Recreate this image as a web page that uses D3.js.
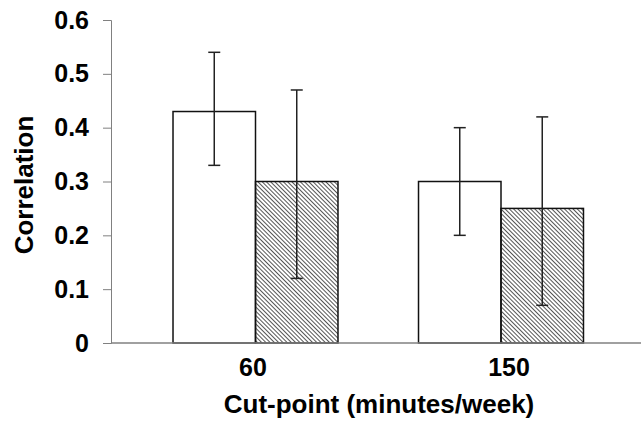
<!DOCTYPE html>
<html>
<head>
<meta charset="utf-8">
<script src="https://cdn.jsdelivr.net/npm/d3@7"></script>
<style>
  body { margin: 0; background: #fff; }
  text { font-family: "Liberation Sans", Arial, sans-serif; font-weight: bold; }
</style>
</head>
<body>
<div id="chart"></div>
<script>
// data
var categories = ["60", "150"];
var series = ["a", "b"];               // white bar, hatched bar
var values = [[0.43, 0.30], [0.30, 0.25]];
var errLow = [[0.33, 0.12], [0.20, 0.07]];
var errHigh = [[0.54, 0.47], [0.40, 0.42]];
var yTicks = [0, 0.1, 0.2, 0.3, 0.4, 0.5, 0.6];

var width = 641, height = 421;
var svg = d3.select("#chart").append("svg")
    .attr("width", width)
    .attr("height", height);

// hatch for the second series
var defs = svg.append("defs");
defs.append("pattern")
    .attr("id", "hatch")
    .attr("patternUnits", "userSpaceOnUse")
    .attr("width", 3)
    .attr("height", 3)
    .attr("patternTransform", "rotate(-45)")
  .append("line")
    .attr("x1", 0.5).attr("y1", 0)
    .attr("x2", 0.5).attr("y2", 3)
    .attr("stroke", "#555")
    .attr("stroke-width", 1);

var y = d3.scaleLinear().domain([0, 0.6]).range([343, 20]);

var x = d3.scaleBand()
    .domain(categories)
    .range([132.75, 623.75])
    .paddingInner(0.328)
    .paddingOuter(0.164);

var xs = d3.scaleBand()
    .domain(series)
    .range([0, x.bandwidth()]);

// category labels sit a little off the group centres in the original
var xl = d3.scalePoint()
    .domain(categories)
    .range([253, 509]);

// y axis
var yAxis = svg.append("g")
    .attr("transform", "translate(111,0)")
    .call(d3.axisLeft(y)
        .tickValues(yTicks)
        .tickSize(8)
        .tickPadding(14)
        .tickFormat(function(d) { return d === 0 ? "0" : d.toFixed(1); }));
yAxis.select(".domain").attr("stroke", "#808080");
yAxis.selectAll(".tick line").attr("stroke", "#808080");
yAxis.selectAll(".tick text")
    .attr("font-size", 25)
    .attr("fill", "#000")
    .attr("font-family", "Liberation Sans, Arial, sans-serif")
    .attr("font-weight", "bold");

// bars
var groups = svg.selectAll(".grp")
    .data(categories)
    .enter().append("g")
    .attr("class", "grp")
    .attr("transform", function(d) { return "translate(" + x(d) + ",0)"; });

groups.selectAll("rect")
    .data(function(d, i) {
        return series.map(function(s, j) {
            return {s: s, v: values[i][j], lo: errLow[i][j], hi: errHigh[i][j]};
        });
    })
    .enter().append("rect")
    .attr("x", function(d) { return xs(d.s); })
    .attr("y", function(d) { return y(d.v); })
    .attr("width", xs.bandwidth())
    .attr("height", function(d) { return y(0) - y(d.v); })
    .attr("fill", function(d) { return d.s === "a" ? "#fff" : "url(#hatch)"; })
    .attr("stroke", "#111")
    .attr("stroke-width", 1.5);

// x baseline, runs to the right edge
svg.append("line")
    .attr("x1", 111).attr("x2", width)
    .attr("y1", y(0)).attr("y2", y(0))
    .attr("stroke", "#808080")
    .attr("stroke-width", 1.5);

// error bars
var eb = groups.selectAll(".err")
    .data(function(d, i) {
        return series.map(function(s, j) {
            return {s: s, lo: errLow[i][j], hi: errHigh[i][j]};
        });
    })
    .enter().append("g")
    .attr("class", "err")
    .attr("transform", function(d) { return "translate(" + (xs(d.s) + xs.bandwidth() / 2) + ",0)"; })
    .attr("stroke", "#222")
    .attr("stroke-width", 1.5);
eb.append("line")
    .attr("x1", 0).attr("x2", 0)
    .attr("y1", function(d) { return y(d.lo); })
    .attr("y2", function(d) { return y(d.hi); });
eb.append("line")
    .attr("x1", -6).attr("x2", 6)
    .attr("y1", function(d) { return y(d.hi); })
    .attr("y2", function(d) { return y(d.hi); });
eb.append("line")
    .attr("x1", -6).attr("x2", 6)
    .attr("y1", function(d) { return y(d.lo); })
    .attr("y2", function(d) { return y(d.lo); });

// category labels
svg.selectAll(".cat")
    .data(categories)
    .enter().append("text")
    .attr("class", "cat")
    .attr("x", function(d) { return xl(d); })
    .attr("y", 376)
    .attr("text-anchor", "middle")
    .attr("font-size", 25)
    .text(function(d) { return d; });

// axis titles
svg.append("text")
    .attr("x", 379)
    .attr("y", 413)
    .attr("text-anchor", "middle")
    .attr("font-size", 26)
    .text("Cut-point (minutes/week)");

svg.append("text")
    .attr("transform", "translate(33,185) rotate(-90)")
    .attr("text-anchor", "middle")
    .attr("font-size", 26)
    .text("Correlation");
</script>
</body>
</html>
